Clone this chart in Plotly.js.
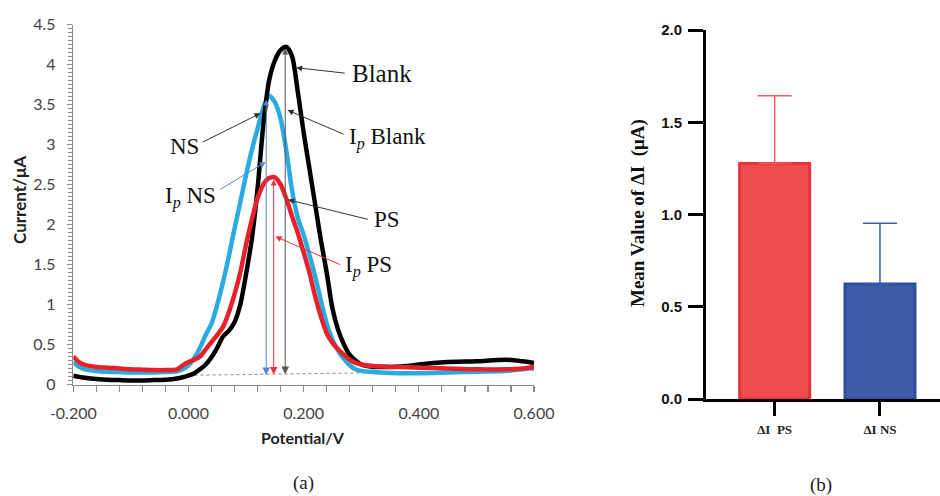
<!DOCTYPE html>
<html>
<head>
<meta charset="utf-8">
<script src="https://cdn.plot.ly/plotly-3.0.1.min.js"></script>
<style>html,body{margin:0;padding:0;background:#fff;}#chart{width:940px;height:496px;}</style>
</head>
<body>
<div id="chart"></div>
<script>
// ---- Panel (a): differential pulse voltammograms ----
const potential = [-0.20,-0.19,-0.18,-0.16,-0.14,-0.12,-0.10,-0.08,-0.06,-0.04,-0.02,-0.01,
  0.00,0.01,0.02,0.03,0.04,0.05,0.06,0.07,0.08,0.09,0.10,0.11,0.12,0.13,0.14,0.15,0.16,0.17,0.18,0.19,
  0.20,0.21,0.22,0.23,0.24,0.25,0.26,0.27,0.28,0.29,0.30,0.32,0.35,0.38,0.40,0.45,0.50,0.55,0.58,0.60];
const blankCurrent = [0.11,0.095,0.085,0.07,0.06,0.055,0.05,0.05,0.055,0.06,0.075,0.09,
  0.11,0.14,0.19,0.25,0.34,0.46,0.60,0.67,0.78,1.00,1.38,1.82,2.45,3.25,3.80,4.05,4.18,4.22,4.10,3.65,
  3.15,2.70,2.25,1.80,1.40,0.95,0.68,0.50,0.37,0.30,0.25,0.22,0.22,0.23,0.25,0.28,0.29,0.31,0.29,0.27];
const nsCurrent = [0.28,0.22,0.19,0.17,0.16,0.155,0.15,0.15,0.15,0.155,0.165,0.19,
  0.24,0.33,0.46,0.62,0.76,1.00,1.28,1.60,1.95,2.28,2.62,2.93,3.20,3.46,3.61,3.53,3.32,2.92,2.42,2.08,
  1.87,1.62,1.35,1.05,0.76,0.56,0.42,0.32,0.24,0.19,0.17,0.155,0.145,0.14,0.14,0.15,0.16,0.17,0.19,0.21];
const psCurrent = [0.35,0.28,0.245,0.22,0.21,0.20,0.19,0.185,0.18,0.18,0.19,0.24,
  0.28,0.31,0.35,0.44,0.53,0.62,0.72,0.90,1.13,1.40,1.75,2.06,2.33,2.50,2.58,2.59,2.50,2.32,2.10,1.89,
  1.65,1.40,1.10,0.85,0.64,0.52,0.44,0.37,0.31,0.27,0.25,0.23,0.22,0.215,0.21,0.20,0.19,0.19,0.20,0.22];
const baselinePotential = [0.00, 0.60];
const baselineCurrent = [0.115, 0.175];
const ipNames = ['Blank', 'NS', 'PS'];
const ipPotential = [0.168, 0.135, 0.148];
const ipPeak = [4.22, 3.58, 2.58];
const ipBase = [0.13, 0.12, 0.125];
const xTickVals = [-0.2, 0.0, 0.2, 0.4, 0.6];
const xTickText = ['-0.200', '0.000', '0.200', '0.400', '0.600'];

// ---- Panel (b): mean ΔI ----
const barCategories = ['ΔI\u00a0 PS', 'ΔI NS'];
const barMeans = [1.277, 0.623];
const barErrors = [0.367, 0.329];

const curveColors = {Blank: '#000000', NS: '#29abe2', PS: '#e8202a'};
const ipColors = {Blank: '#555555', NS: '#5b82d0', PS: '#e8303a'};

const traces = [
  {x: baselinePotential, y: baselineCurrent, type: 'scatter', mode: 'lines', xaxis: 'x', yaxis: 'y',
   line: {color: '#888', width: 1, dash: 'dot'}, hoverinfo: 'skip', showlegend: false},
  {x: potential, y: nsCurrent, type: 'scatter', mode: 'lines', name: 'NS', xaxis: 'x', yaxis: 'y',
   line: {color: curveColors.NS, width: 4.5, shape: 'spline', smoothing: 0.7}, showlegend: false},
  {x: potential, y: blankCurrent, type: 'scatter', mode: 'lines', name: 'Blank', xaxis: 'x', yaxis: 'y',
   line: {color: curveColors.Blank, width: 4.5, shape: 'spline', smoothing: 0.7}, showlegend: false},
  {x: potential, y: psCurrent, type: 'scatter', mode: 'lines', name: 'PS', xaxis: 'x', yaxis: 'y',
   line: {color: curveColors.PS, width: 4.5, shape: 'spline', smoothing: 0.7}, showlegend: false},
  {x: [barCategories[0]], y: [barMeans[0]], type: 'bar', xaxis: 'x2', yaxis: 'y2', width: 0.665,
   marker: {color: '#ef4c50', line: {color: '#e5323a', width: 3}},
   error_y: {type: 'data', array: [barErrors[0]], arrayminus: [0], symmetric: false, color: '#ef5a5e', thickness: 1.5, width: 17},
   showlegend: false},
  {x: [barCategories[1]], y: [barMeans[1]], type: 'bar', xaxis: 'x2', yaxis: 'y2', width: 0.665,
   marker: {color: '#3f5ca8', line: {color: '#2d4f9f', width: 3}},
   error_y: {type: 'data', array: [barErrors[1]], arrayminus: [0], symmetric: false, color: '#3d5aaa', thickness: 1.5, width: 17},
   showlegend: false}
];

const serif = 'Liberation Serif, Times New Roman, serif';
const annotations = [];

// double-headed vertical Ip arrows
ipNames.forEach((n, i) => {
  annotations.push({xref: 'x', yref: 'y', axref: 'x', ayref: 'y',
    x: ipPotential[i], y: ipBase[i], ax: ipPotential[i], ay: ipPeak[i], text: '',
    showarrow: true, arrowside: 'end+start', arrowhead: 2, startarrowhead: 2,
    arrowsize: 1.5, startarrowsize: 1.2, arrowwidth: 1, arrowcolor: ipColors[n]});
});

// labels with pointer arrows: [text, textX, textY, anchor, tailX, tailY, headX, headY, color]
const labelDefs = [
  ['Blank', 0.281, 3.89, 'left', 0.274, 3.89, 0.187, 3.96, '#333'],
  ['I<sub><i>p</i></sub> Blank', 0.275, 3.07, 'left', 0.272, 3.12, 0.172, 3.43, '#333'],
  ['NS', 0.021, 2.97, 'right', 0.022, 3.02, 0.125, 3.39, '#333'],
  ['I<sub><i>p</i></sub> NS', 0.052, 2.34, 'right', 0.053, 2.43, 0.134, 2.78, '#5b82d0'],
  ['PS', 0.318, 2.06, 'left', 0.314, 2.06, 0.173, 2.31, '#333'],
  ['I<sub><i>p</i></sub> PS', 0.269, 1.48, 'left', 0.266, 1.49, 0.151, 1.85, '#e8303a']
];
labelDefs.forEach(d => {
  annotations.push({xref: 'x', yref: 'y', axref: 'x', ayref: 'y', x: d[6], y: d[7], ax: d[4], ay: d[5],
    text: '', showarrow: true, arrowhead: 2, arrowsize: 1.2, arrowwidth: 1, arrowcolor: d[8]});
  annotations.push({xref: 'x', yref: 'y', x: d[1], y: d[2], text: d[0], showarrow: false,
    xanchor: d[3], yanchor: 'middle', font: {family: serif, size: d[0] === 'Blank' ? 25 : 23, color: '#111'}});
});

// axis titles & captions
const paperText = (x, y, text, font, angle) => ({xref: 'paper', yref: 'paper', x: x/940, y: 1 - y/496,
  text: text, textangle: angle || 0, showarrow: false, xanchor: 'center', yanchor: 'middle', font: font});
annotations.push(
  paperText(19, 200, 'Current/μA', {family: 'Lato, sans-serif', size: 17, color: '#222', weight: 'bold'}, -90),
  paperText(303, 437, 'Potential/V', {family: 'Lato, sans-serif', size: 16, color: '#222', weight: 'bold'}),
  paperText(638, 213, 'Mean Value of ΔI\u00a0 (μA)', {family: serif, size: 19, color: '#111', weight: 'bold'}, -90),
  paperText(303, 483, '(a)', {family: serif, size: 19, color: '#222'}),
  paperText(821, 485, '(b)', {family: serif, size: 19, color: '#222'})
);

const gray = '#8a8a8a';
const layout = {
  width: 940, height: 496,
  margin: {l: 0, r: 0, t: 0, b: 0},
  paper_bgcolor: '#fff', plot_bgcolor: '#fff',
  showlegend: false,
  xaxis: {domain: [73.3/940, 534/940], range: [-0.2, 0.6], anchor: 'y',
    tickvals: xTickVals, ticktext: xTickText, ticks: 'outside', ticklen: 6, tickwidth: 1.2, tickcolor: gray,
    minor: {dtick: 0.04, tick0: -0.2, ticks: 'outside', ticklen: 6, tickwidth: 1.2, tickcolor: gray},
    showline: true, linecolor: gray, linewidth: 1.5, showgrid: false, zeroline: false,
    ticklabelstandoff: 8, tickfont: {family: 'Lato, sans-serif', size: 16, color: '#444'}},
  yaxis: {domain: [(496-384.5)/496, (496-24.5)/496], range: [0, 4.5], anchor: 'x',
    dtick: 0.5, tick0: 0, ticks: 'outside', ticklen: 5, tickwidth: 1.2, tickcolor: gray,
    minor: {dtick: 0.05, ticks: 'outside', ticklen: 4, tickwidth: 1, tickcolor: gray},
    showline: true, linecolor: gray, linewidth: 1.5, showgrid: false, zeroline: false,
    ticklabelstandoff: 8, tickfont: {family: 'Lato, sans-serif', size: 16, color: '#444'}},
  xaxis2: {domain: [706/940, 1.0], range: [-0.652, 1.57], anchor: 'y2', type: 'category',
    ticks: 'outside', ticklen: 14, tickwidth: 3, tickcolor: '#000',
    showline: true, linecolor: '#000', linewidth: 3, showgrid: false, zeroline: false,
    ticklabelstandoff: 2, tickfont: {family: serif, size: 13, color: '#222', weight: 'bold'}},
  yaxis2: {domain: [(496-399)/496, (496-30)/496], range: [0, 2], anchor: 'x2',
    dtick: 0.5, tick0: 0, tickformat: '.1f', ticks: 'outside', ticklen: 15, tickwidth: 3, tickcolor: '#000',
    showline: true, linecolor: '#000', linewidth: 3, showgrid: false, zeroline: false,
    ticklabelstandoff: 3, tickfont: {family: 'Liberation Sans, Arial, sans-serif', size: 15, color: '#111', weight: 'bold'}},
  bargap: 0.3,
  annotations: annotations
};

Plotly.newPlot('chart', traces, layout, {displayModeBar: false, staticPlot: true});
</script>
</body>
</html>
